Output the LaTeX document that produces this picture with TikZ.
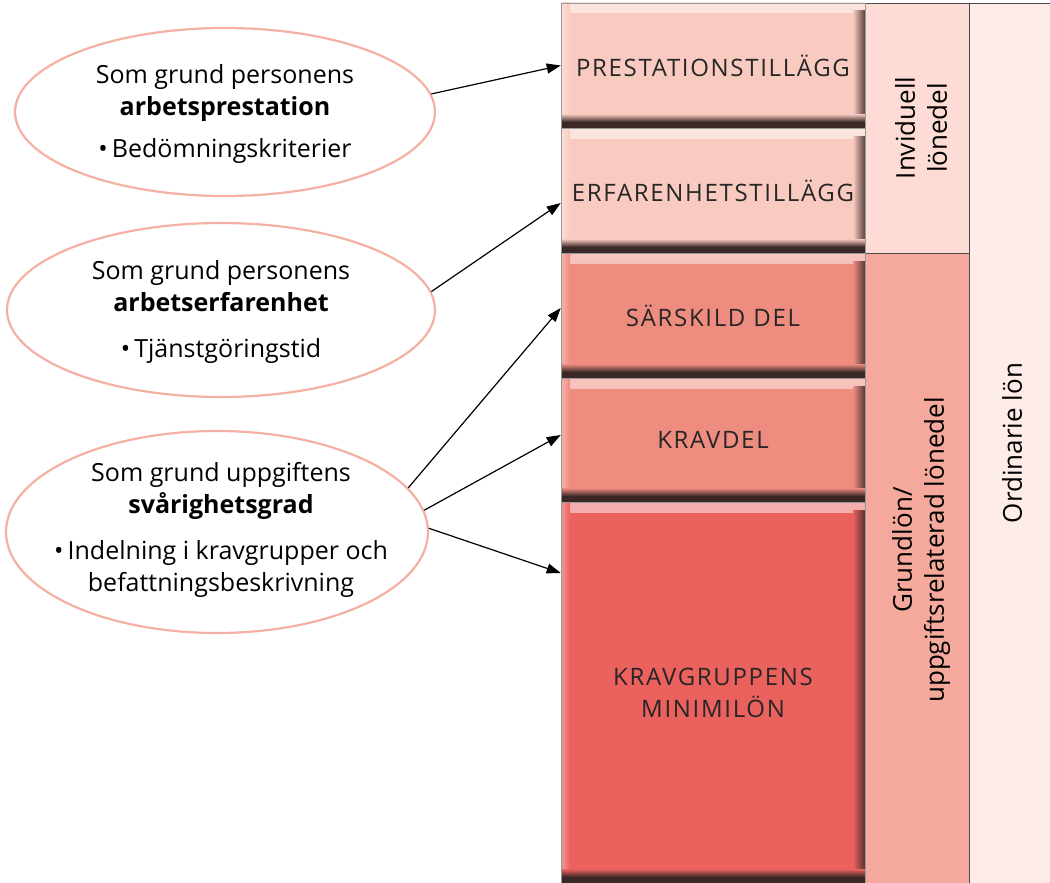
\documentclass[tikz,border=0pt]{standalone}
\usepackage{fontspec}
\setmainfont{Open Sans}
\newfontfamily\boxfont[LetterSpace=7]{Open Sans}
\usetikzlibrary{arrows.meta,shapes.geometric}
\definecolor{lightbox}{HTML}{F9CBC0}
\definecolor{midbox}{HTML}{EF8C80}
\definecolor{strongbox}{HTML}{EA615E}
\definecolor{colA}{HTML}{FCDCD4}
\definecolor{colB}{HTML}{F4A99C}
\definecolor{colC}{HTML}{FDECE8}
\definecolor{ellborder}{HTML}{F4B0A2}
\definecolor{bevdark}{HTML}{3A2826}
\definecolor{colline}{HTML}{4A4A4A}
\tikzset{
  bevelbox/.style={rectangle, inner sep=0pt, minimum width=304pt, fill=#1,
    draw=gray!80, line width=0.5pt, align=center, text=black!85,
    font=\boxfont\fontsize{24}{32}\selectfont,
    path picture={
      \fill[top color=white!50!#1, bottom color=#1]
        (path picture bounding box.north west) rectangle ([yshift=-10pt]path picture bounding box.north east);
      \fill[left color=white!35!#1, right color=#1]
        (path picture bounding box.north west) rectangle ([xshift=9pt]path picture bounding box.south west);
      \fill[left color=#1, right color=bevdark!85!#1]
        ([xshift=-12pt,yshift=-8pt]path picture bounding box.north east) rectangle (path picture bounding box.south east);
      \fill[top color=#1, bottom color=bevdark]
        ([yshift=14pt]path picture bounding box.south west) rectangle ([yshift=6pt]path picture bounding box.south east);
      \fill[bevdark]
        ([yshift=6pt]path picture bounding box.south west) rectangle (path picture bounding box.south east);
    }},
  colbox/.style={rectangle, inner sep=0pt, fill=#1, draw=colline, line width=0.8pt},
  coltext/.style={rotate=90, align=center, font=\fontsize{26}{32}\selectfont},
  ellbox/.style={ellipse, draw=ellborder, line width=2.2pt, fill=white, inner sep=0pt},
  elltext/.style={align=center, font=\fontsize{25}{32}\selectfont},
  arr/.style={-{Triangle[length=14pt,width=10pt]}, line width=1.2pt, black}
}
\begin{document}
\begin{tikzpicture}[x=1pt,y=-1pt]
\useasboundingbox (0,0) rectangle (1050,883);
% columns
\node[colbox=colC, minimum width=83pt, minimum height=880pt] (c3) at (1010.5,443) {};
\node[colbox=colA, minimum width=104pt, minimum height=250pt] (c1) at (917,128) {};
\node[colbox=colB, minimum width=104pt, minimum height=630pt] (c2) at (917,568) {};
\node[coltext] (c1t) at (921,128) {Inviduell\\lönedel};
\node[coltext] (c2t) at (921,550) {Grundlön/\\uppgiftsrelaterad lönedel};
\node[coltext] (c3t) at (1012,443) {Ordinarie lön};
% boxes
\node[bevelbox=lightbox, minimum height=125pt] (b1) at (713,65.5) {PRESTATIONSTILLÄGG};
\node[bevelbox=lightbox, minimum height=125pt] (b2) at (713,190.5) {ERFARENHETSTILLÄGG};
\node[bevelbox=midbox, minimum height=125pt] (b3) at (713,315.5) {SÄRSKILD DEL};
\node[bevelbox=midbox, minimum height=124pt] (b4) at (713,440) {KRAVDEL};
\node[bevelbox=strongbox, minimum height=381pt] (b5) at (713,692.5) {KRAVGRUPPENS\\MINIMILÖN};
% ellipses
\node[ellbox, minimum width=420pt, minimum height=168pt] (e1) at (225,112) {};
\node[ellbox, minimum width=428pt, minimum height=174pt] (e2) at (221,310) {};
\node[ellbox, minimum width=422pt, minimum height=202pt] (e3) at (217,532) {};
\node[elltext] (t1) at (225,114) {Som grund personens\\\textbf{arbetsprestation}\\[10pt]\textbullet\,Bedömningskriterier};
\node[elltext] (t2) at (221,312) {Som grund personens\\\textbf{arbetserfarenhet}\\[14pt]\textbullet\,Tjänstgöringstid};
\node[elltext] (t3) at (221,530) {Som grund uppgiftens\\\textbf{svårighetsgrad}\\[14pt]\textbullet\,Indelning i kravgrupper och\\befattningsbeskrivning};
% arrows
\draw[arr] (e1.5) -- (b1.west);
\draw[arr] (e2.5) -- ([yshift=-12.5pt]b2.west);
\draw[arr] (e3.13) -- ([yshift=7.5pt]b3.west);
\draw[arr] (e3.6) -- ([yshift=5pt]b4.west);
\draw[arr] (e3.1) -- ([yshift=119.5pt]b5.west);
\end{tikzpicture}
\end{document}
